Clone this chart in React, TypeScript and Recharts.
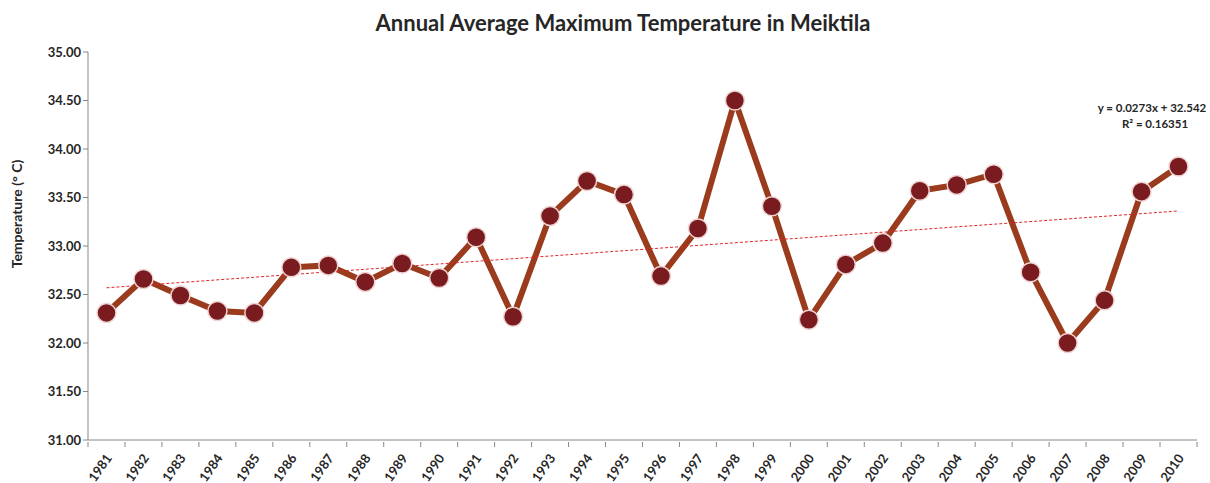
import { Line, LineChart, ReferenceLine, XAxis, YAxis } from "recharts";

const years = [
    "1981", "1982", "1983", "1984", "1985", "1986", "1987", "1988", "1989", "1990",
    "1991", "1992", "1993", "1994", "1995", "1996", "1997", "1998", "1999", "2000",
    "2001", "2002", "2003", "2004", "2005", "2006", "2007", "2008", "2009", "2010",
];

const temps = [
    32.31, 32.66, 32.49, 32.33, 32.31, 32.78, 32.8, 32.63, 32.82, 32.67,
    33.09, 32.27, 33.31, 33.67, 33.53, 32.69, 33.18, 34.5, 33.41, 32.24,
    32.81, 33.03, 33.57, 33.63, 33.74, 32.73, 32.0, 32.44, 33.56, 33.82,
];

// trendline y = 0.0273x + 32.542 at x = 1 and x = 30
const trendEnds = [32.569, 33.361];

const yTicks = [31, 31.5, 32, 32.5, 33, 33.5, 34, 34.5, 35];

const data = years.map((year, i) => ({ year, temp: temps[i] }));

const FONT = "Lato, 'Open Sans', sans-serif";
const AXIS_GRAY = "#868686";
const HALF_BAND = 18.5;

const YearTick = (props: any) => {
    const { x, y, payload, index } = props;
    return (
        <g>
            <line x1={x - HALF_BAND} y1={y - 6} x2={x - HALF_BAND} y2={y - 1} stroke={AXIS_GRAY} />
            {index === years.length - 1 && (
                <line x1={x + HALF_BAND} y1={y - 6} x2={x + HALF_BAND} y2={y - 1} stroke={AXIS_GRAY} />
            )}
            <text
                x={x + 6}
                y={y + 10}
                textAnchor="end"
                transform={`rotate(-55 ${x + 6} ${y + 10})`}
                fontFamily={FONT}
                fontWeight="bold"
                fontSize={13}
                fill="#262626"
            >
                {payload.value}
            </text>
        </g>
    );
};

const TempDot = (props: any) => {
    const { cx, cy } = props;
    if (cx == null || cy == null) return null;
    return <circle cx={cx} cy={cy} r={9.5} fill="#7a1b1f" stroke="#eed3d3" strokeWidth={1.5} />;
};

const App = () => {
    return (
        <div style={{ position: "absolute", left: 0, top: 0, width: 1210, height: 483, background: "#fff" }}>
            <LineChart width={1210} height={483} data={data} margin={{ top: 52, right: 13, bottom: 0, left: 0 }}>
                <text x={623} y={31} textAnchor="middle" fontFamily={FONT} fontWeight="bold" fontSize={22} fill="#262626">
                    Annual Average Maximum Temperature in Meiktila
                </text>
                <text x={1152} y={112} textAnchor="middle" fontFamily={FONT} fontWeight="bold" fontSize={11.5} fill="#262626">
                    y = 0.0273x + 32.542
                </text>
                <text x={1155} y={128} textAnchor="middle" fontFamily={FONT} fontWeight="bold" fontSize={11.5} fill="#262626">
                    R² = 0.16351
                </text>
                <text
                    x={22}
                    y={214}
                    textAnchor="middle"
                    transform="rotate(-90 22 214)"
                    fontFamily={FONT}
                    fontWeight="bold"
                    fontSize={14}
                    fill="#262626"
                >
                    Temperature (° C)
                </text>
                <XAxis
                    dataKey="year"
                    interval={0}
                    height={43}
                    padding={{ left: HALF_BAND, right: HALF_BAND }}
                    stroke={AXIS_GRAY}
                    tickLine={false}
                    tick={<YearTick />}
                />
                <YAxis
                    domain={[31, 35]}
                    ticks={yTicks}
                    width={88}
                    stroke={AXIS_GRAY}
                    tickSize={5}
                    tickFormatter={(v: number) => v.toFixed(2)}
                    tick={{ fontFamily: FONT, fontWeight: "bold", fontSize: 13, fill: "#262626" }}
                />
                <Line
                    type="linear"
                    dataKey="temp"
                    stroke="#9a3b1d"
                    strokeWidth={6}
                    dot={<TempDot />}
                    activeDot={false}
                    isAnimationActive={false}
                />
                <ReferenceLine
                    segment={[
                        { x: years[0], y: trendEnds[0] },
                        { x: years[years.length - 1], y: trendEnds[1] },
                    ]}
                    stroke="#e0262a"
                    strokeDasharray="3 2"
                    strokeWidth={1}
                />
            </LineChart>
        </div>
    );
};

export default App;
